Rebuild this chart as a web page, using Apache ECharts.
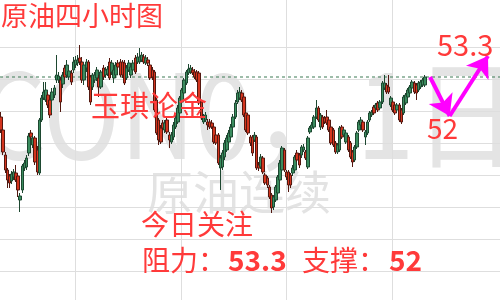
<!DOCTYPE html>
<html><head><meta charset="utf-8">
<script src="https://cdn.jsdelivr.net/npm/echarts@6/dist/echarts.min.js"></script>
<style>html,body{margin:0;padding:0;background:#fff;overflow:hidden}#c{width:500px;height:300px}</style>
</head><body><div id="c"></div>
<script>
// [open, close, low, high] — 4-hour candles
const ohlc = [
[52.16,51.90,51.84,52.26],[51.90,51.46,51.40,51.94],[51.40,51.10,51.04,51.46],[51.10,50.90,50.74,51.14],[50.98,50.84,50.74,51.02],
[50.88,51.02,50.82,51.08],[50.96,51.06,50.90,51.12],[51.04,50.90,50.86,51.20],[50.98,50.70,50.56,51.04],[50.50,50.58,50.26,50.64],
[50.70,51.18,50.64,51.22],[51.14,51.24,51.08,51.30],[51.16,51.34,51.10,51.40],[51.44,51.78,51.38,51.84],[51.84,51.76,51.70,51.90],
[51.60,51.74,51.54,51.80],[51.74,51.26,51.20,51.78],[51.50,51.06,51.00,51.58],[51.04,52.10,51.00,52.14],[52.10,52.54,52.06,52.60],
[52.54,52.66,52.50,52.86],[52.50,52.70,52.46,52.86],[52.60,52.40,52.34,52.66],[52.50,52.20,52.14,52.56],[52.50,52.66,52.24,52.74],
[52.60,52.74,52.54,52.80],[52.90,53.00,52.84,53.40],[52.90,52.98,52.84,53.06],[52.90,52.46,52.26,52.96],[52.82,53.00,52.74,53.06],
[53.14,52.96,52.90,53.20],[53.00,53.20,52.94,53.30],[52.96,53.08,52.90,53.18],[53.04,52.86,52.80,53.10],[53.10,53.26,53.04,53.36],
[53.20,53.30,53.14,53.38],[53.24,53.30,53.18,53.40],[53.34,53.26,53.20,53.60],[53.26,52.90,52.84,53.36],[52.90,53.20,52.80,53.26],
[53.14,53.26,53.06,53.32],[53.26,52.76,52.70,53.30],[52.96,52.46,52.40,53.00],[52.76,53.00,52.70,53.04],[52.90,53.00,52.84,53.06],
[52.94,53.10,52.88,53.16],[52.94,52.76,52.56,53.00],[52.76,53.06,52.72,53.10],[53.14,52.96,52.90,53.20],[53.00,53.10,52.94,53.16],
[53.02,53.12,52.98,53.18],[53.26,52.94,52.90,53.34],[53.06,53.24,53.00,53.30],[52.94,53.10,52.84,53.16],[53.00,53.20,52.96,53.26],
[53.24,53.16,53.10,53.30],[53.26,53.00,52.96,53.32],[53.26,53.00,52.94,53.30],[53.24,52.84,52.80,53.30],[52.94,53.14,52.90,53.20],
[53.10,53.24,53.06,53.30],[53.00,53.16,52.94,53.22],[53.10,53.24,53.04,53.30],[53.34,53.06,53.02,53.40],[53.26,53.36,53.22,53.44],
[53.26,53.36,53.22,53.54],[53.30,53.40,53.26,53.46],[53.36,53.26,53.22,53.42],[53.24,53.34,53.20,53.40],[53.30,53.24,53.18,53.36],
[53.20,52.94,52.90,53.26],[53.10,52.96,52.90,53.16],[53.06,52.30,52.26,53.10],[52.50,51.84,51.80,52.54],[52.10,51.70,51.60,52.14],
[51.94,51.66,51.62,52.00],[52.04,51.94,51.88,52.10],[51.90,52.04,51.84,52.10],[52.10,51.86,51.82,52.16],[51.80,51.70,51.54,51.86],
[51.66,51.80,51.62,51.86],[51.76,52.00,51.70,52.06],[51.96,52.14,51.92,52.20],[52.06,52.34,52.02,52.40],[52.24,52.54,52.20,52.58],
[52.46,52.70,52.42,52.74],[52.64,52.90,52.60,52.94],[52.84,53.06,52.80,53.10],[53.04,53.12,53.00,53.22],[53.06,53.14,53.02,53.20],
[53.10,53.04,53.00,53.16],[53.06,52.96,52.92,53.12],[53.06,52.90,52.86,53.10],[53.04,52.44,52.40,53.08],[52.46,52.14,52.10,52.50],
[52.06,52.16,52.02,52.22],[52.10,52.20,52.06,52.26],[52.06,52.00,51.90,52.12],[52.06,51.96,51.92,52.12],[52.04,51.96,51.92,52.10],
[51.96,51.66,51.62,52.00],[51.80,51.64,51.60,51.84],[51.80,51.24,51.20,51.84],[51.14,51.34,50.70,51.40],[51.16,51.44,51.10,51.50],
[51.36,51.64,51.30,51.70],[51.50,51.74,51.46,51.80],[51.66,51.84,51.62,51.90],[51.76,51.96,51.72,52.02],[51.96,52.16,51.92,52.22],
[52.16,52.44,52.12,52.50],[52.46,52.64,52.42,52.70],[52.54,52.66,52.50,52.76],[52.64,52.50,52.46,52.70],[52.56,52.20,52.16,52.60],
[52.24,51.90,51.86,52.28],[52.20,51.84,51.80,52.24],[51.76,51.64,51.58,51.80],[51.76,51.44,51.38,51.80],[51.70,51.80,51.66,51.86],
[51.76,51.14,51.10,51.80],[51.20,51.14,51.08,51.26],[51.16,51.36,51.12,51.42],[51.34,51.06,51.02,51.38],[51.00,50.84,50.80,51.04],
[50.94,50.80,50.74,50.98],[50.76,50.56,50.52,50.80],[50.60,50.34,50.24,50.64],[50.36,50.56,50.30,50.60],[50.50,50.76,50.46,50.80],
[50.64,50.96,50.60,51.00],[50.90,51.24,50.86,51.30],[51.10,51.54,51.06,51.58],[51.50,51.10,51.06,51.54],[51.06,50.96,50.90,51.10],
[51.06,50.80,50.66,51.10],[51.00,50.80,50.74,51.04],[51.04,51.14,50.98,51.20],[51.10,51.36,51.06,51.40],[51.44,51.30,51.26,51.50],
[51.40,51.20,51.14,51.44],[51.40,51.56,51.34,51.60],[51.50,51.56,51.46,51.62],[51.46,51.34,51.30,51.50],[51.16,51.74,51.12,51.78],
[51.86,51.94,51.82,51.98],[51.94,52.00,51.90,52.06],[51.96,52.16,51.92,52.20],[52.16,52.34,52.12,52.50],[52.34,52.10,52.06,52.38],
[51.96,52.20,51.90,52.24],[52.16,51.96,51.92,52.20],[52.14,52.06,52.02,52.18],[52.16,52.04,52.00,52.30],[52.10,51.90,51.86,52.14],
[51.96,51.64,51.60,52.00],[51.90,51.60,51.56,51.94],[51.64,51.46,51.42,51.68],[51.46,51.60,51.42,51.64],[51.50,51.94,51.46,51.98],
[51.96,51.76,51.72,52.00],[51.80,51.90,51.76,51.94],[51.66,51.84,51.62,51.88],[51.76,51.50,51.46,51.80],[51.64,51.36,51.32,51.68],
[51.46,51.26,51.16,51.50],[51.30,51.56,51.26,51.60],[51.56,51.84,51.52,51.88],[51.90,52.06,51.86,52.10],[52.00,52.10,51.96,52.16],
[52.06,51.90,51.86,52.10],[51.76,51.86,51.60,51.90],[51.84,52.06,51.80,52.10],[52.10,52.24,52.06,52.28],[52.20,52.26,52.16,52.30],
[52.36,52.24,52.20,52.40],[52.34,52.40,52.30,52.44],[52.44,52.30,52.26,52.48],[52.34,52.46,52.30,52.50],[52.46,52.84,52.42,52.88],
[52.74,52.84,52.70,53.00],[52.80,52.66,52.62,52.84],[52.76,52.66,52.62,53.00],[52.40,52.54,52.36,52.58],[52.46,52.30,52.26,52.50],
[52.40,52.24,52.20,52.44],[52.30,52.40,52.26,52.44],[52.40,52.10,52.06,52.44],[52.30,52.06,52.02,52.34],[52.24,52.56,52.20,52.60],
[52.44,52.60,52.40,52.64],[52.56,52.70,52.52,52.74],[52.64,52.76,52.60,52.80],[52.74,52.86,52.70,52.90],[52.84,52.66,52.62,52.88],
[52.80,52.64,52.50,52.84],[52.70,52.84,52.66,52.88],[52.76,52.86,52.72,52.90],[52.80,52.90,52.76,52.94],[52.80,52.96,52.76,53.00]
];
const supportLevel = 52;
const resistanceLevel = 53.3;
// annotation arrows in bar-index / price units
const arrowDown = [[201.4, 52.96], [210.6, 52.18]];
const arrowUp = [[210.6, 52.18], [228.6, 53.38]];
const titleText = '原油四小时图';
const brandText = '玉琪论金';
const focusText = '今日关注';
const resistLabel = '阻力：';
const supportLabel = '支撑：';
const watermarkSymbol = 'CON0，1日';
const watermarkName = '原油连续';

const categories = ohlc.map((d, i) => String(i + 1));
const N = ohlc.length;
const lastClose = ohlc[N - 1][1];
const candleGridWidth = 426;
const barStep = candleGridWidth / N;
const annoMax = 500 / barStep - 0.5;
const RED = '#ff3a3a';
const CJK = "'Noto Sans CJK SC', 'Noto Sans', sans-serif";

const chart = echarts.init(document.getElementById('c'), null, {renderer: 'canvas', width: 500, height: 300});
const hidden = {show: false};
const gridLine = {show: true, lineStyle: {color: '#dedede', width: 1}};

function txt(text, x, y, size, fill, weight, z, sx) {
  return {type: 'text', x: x, y: y, z: z, silent: true, scaleX: sx || 1,
    style: {text: text, fontSize: size, fontFamily: CJK, fontWeight: weight || 'normal', fill: fill, verticalAlign: 'top', align: 'left'}};
}

chart.setOption({
  animation: false,
  backgroundColor: '#ffffff',
  grid: [
    {left: 75, right: 107.5, top: 0, bottom: 0},
    {left: 0, right: 0, top: 47, bottom: 29},
    {left: 0, right: 500 - candleGridWidth, top: 0, bottom: 0},
    {left: 0, right: 0, top: 0, bottom: 0}
  ],
  xAxis: [
    {gridIndex: 0, type: 'value', min: 0, max: 3, interval: 1, axisLine: hidden, axisTick: hidden, axisLabel: hidden, splitLine: gridLine},
    {gridIndex: 1, type: 'value', min: 0, max: 1, show: false},
    {gridIndex: 2, type: 'category', data: categories, boundaryGap: true, show: false},
    {gridIndex: 3, type: 'value', min: -0.5, max: annoMax, show: false}
  ],
  yAxis: [
    {gridIndex: 0, type: 'value', min: 0, max: 1, show: false},
    {gridIndex: 1, type: 'value', min: 0, max: 7, interval: 1, axisLine: hidden, axisTick: hidden, axisLabel: hidden, splitLine: gridLine},
    {gridIndex: 2, type: 'value', min: 48.5, max: 54.5, show: false, scale: true},
    {gridIndex: 3, type: 'value', min: 48.5, max: 54.5, show: false, scale: true}
  ],
  graphic: {elements: [
    txt(watermarkSymbol, -20, 55, 118, '#e4e4e4', 'normal', -10, 0.88),
    txt(watermarkName, 147, 169, 46, '#e3e3e3', 'normal', -10),
    txt(titleText, 1, 2, 27, RED, 'normal', 100),
    txt(brandText, 91, 91, 29, RED, 'normal', 100),
    txt(focusText, 141, 210, 28, RED, 'normal', 100),
    txt(resistLabel, 142, 246, 28, RED, 'normal', 100),
    txt(String(resistanceLevel), 228, 246, 28, RED, 'bold', 100),
    txt(supportLabel, 302, 246, 28, RED, 'normal', 100),
    txt(String(supportLevel), 389, 246, 28, RED, 'bold', 100),
    txt(String(resistanceLevel), 437, 30, 29, RED, 'normal', 100),
    txt(String(supportLevel), 427, 114, 28, RED, 'normal', 100)
  ]},
  series: [
    {
      type: 'candlestick', xAxisIndex: 2, yAxisIndex: 2, data: ohlc, barWidth: 3, z: 5,
      itemStyle: {color: '#3a8c5e', color0: '#d4351e', borderColor: '#1d4730', borderColor0: '#521810', borderWidth: 1}
    },
    {
      type: 'line', xAxisIndex: 3, yAxisIndex: 3, symbol: 'none', silent: true, z: 4,
      data: [[-0.5, lastClose], [annoMax, lastClose]],
      lineStyle: {color: '#3d7a55', width: 1, type: [3, 3]}
    },
    {
      type: 'lines', coordinateSystem: 'cartesian2d', xAxisIndex: 3, yAxisIndex: 3, z: 20, silent: true,
      symbol: ['none', 'arrow'], symbolSize: 20,
      lineStyle: {color: '#ff00ff', width: 4, opacity: 1, curveness: 0},
      data: [{coords: arrowDown}, {coords: arrowUp}]
    }
  ]
});
</script></body></html>
